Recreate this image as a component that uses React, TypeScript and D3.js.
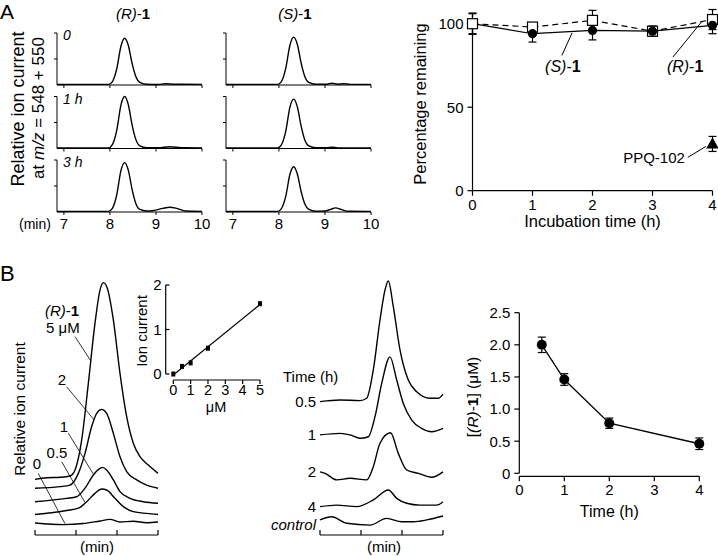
import React from "react";
import * as d3 from "d3";

const FONT = "'Liberation Sans', Arial, Helvetica, sans-serif";

type Pt = [number, number];

// ---------- A, left: chromatograms (min, height relative to axis top) ----------
const chromTicks = [7, 8, 9, 10];
const chromRowLabels = ["0", "1 h", "3 h"];
const chromR: Pt[][] = [
  [[6.85,0.01],[7.5,0.012],[7.97,0.012],[8.05,0.06],[8.15,0.32],[8.24,0.75],[8.32,0.9],[8.4,0.76],[8.48,0.42],[8.56,0.17],[8.65,0.05],[8.78,0.015],[9.05,0.01],[9.2,0.025],[9.4,0.015],[10,0.012]],
  [[6.85,0.01],[7.5,0.012],[7.97,0.012],[8.05,0.07],[8.15,0.36],[8.24,0.84],[8.32,1.0],[8.4,0.84],[8.48,0.46],[8.56,0.18],[8.65,0.05],[8.8,0.015],[9.05,0.015],[9.3,0.035],[9.55,0.015],[10,0.012]],
  [[6.85,0.01],[7.5,0.012],[7.97,0.012],[8.05,0.065],[8.15,0.34],[8.24,0.8],[8.32,0.95],[8.4,0.8],[8.48,0.44],[8.56,0.17],[8.65,0.05],[8.8,0.02],[8.95,0.03],[9.15,0.07],[9.3,0.09],[9.45,0.07],[9.65,0.02],[9.8,0.015],[10,0.012]],
];
const chromS: Pt[][] = [
  [[6.85,0.01],[7.5,0.012],[7.97,0.012],[8.05,0.06],[8.15,0.33],[8.24,0.77],[8.32,0.92],[8.4,0.78],[8.48,0.43],[8.56,0.17],[8.65,0.05],[8.8,0.015],[9.05,0.015],[9.15,0.035],[9.27,0.015],[9.4,0.025],[9.55,0.012],[10,0.012]],
  [[6.85,0.01],[7.5,0.012],[7.97,0.012],[8.05,0.065],[8.15,0.34],[8.24,0.8],[8.32,0.95],[8.4,0.8],[8.48,0.44],[8.56,0.17],[8.65,0.05],[8.8,0.015],[9.05,0.015],[9.15,0.025],[9.28,0.012],[10,0.012]],
  [[6.85,0.01],[7.5,0.012],[7.97,0.012],[8.05,0.06],[8.15,0.31],[8.24,0.73],[8.32,0.87],[8.4,0.73],[8.48,0.4],[8.56,0.16],[8.65,0.05],[8.8,0.015],[9.0,0.02],[9.12,0.05],[9.23,0.08],[9.35,0.05],[9.48,0.015],[10,0.012]],
];

// ---------- A, right: percentage remaining ----------
const incTimes = [0, 1, 2, 3, 4];
const pctR = [100, 98, 102, 95.5, 102.5];
const pctRErr = [6, 2, 6, 3, 6];
const pctS = [100, 94, 96, 95.5, 99];
const pctSErr = [6.4, 5, 5.7, 3, 5];
const ppqTime = 4;
const ppqPct = 28;
const ppqErr = 4.5;
const pctTicks = [0, 50, 100];

// ---------- B, left: calibration chromatograms ----------
const calLabels = ["5 μM", "2", "1", "0.5", "0"];
const calTraces: Pt[][] = [
  [[0,21.4],[0.285,22.0],[0.61,22.2],[0.854,22.7],[0.976,25],[1.138,36.5],[1.301,58.3],[1.463,81.4],[1.585,94.2],[1.667,97.05],[1.764,94.9],[1.911,82.7],[2.073,62.2],[2.236,45.5],[2.398,35.3],[2.561,30.1],[2.764,26.9],[3,23.7]],
  [[0,18.0],[0.61,18.6],[0.854,19.2],[1.057,23.7],[1.22,31.4],[1.382,41.7],[1.504,46.8],[1.626,48.3],[1.748,46.8],[1.911,39.1],[2.073,30.1],[2.236,24.4],[2.48,21.2],[2.724,19.2],[3,18.0]],
  [[0,12.8],[0.772,14.1],[1.016,14.7],[1.22,18.0],[1.423,23.1],[1.585,25.6],[1.642,26.0],[1.748,25.0],[1.911,21.2],[2.073,16.7],[2.317,14.1],[2.642,12.8],[3,12.2]],
  [[0,7.9],[0.772,9.4],[1.057,10.3],[1.26,12.8],[1.463,16.0],[1.626,17.7],[1.748,17.3],[1.951,14.1],[2.154,10.9],[2.398,9.0],[2.724,8.3],[3,7.9]],
  [[0,4.6],[0.691,4.0],[1.179,4.4],[1.585,5.4],[1.829,6.0],[2.073,5.0],[2.398,5.3],[2.724,4.7],[3,5.0]],
];
const minTicks = [0, 1, 2, 3];

// ---------- B, inset: calibration ----------
const calX = [0, 0.5, 1, 2, 5];
const calY = [0, 0.17, 0.25, 0.58, 1.58];
const calXTicks = [0, 1, 2, 3, 4, 5];
const calYTicks = [0, 1, 2];

// ---------- B, middle: time course chromatograms ----------
const tcLabels = ["0.5", "1", "2", "4", "control"];
const tcTraces: Pt[][] = [
  [[0,51.3],[0.488,51.9],[0.976,51.7],[1.139,52.6],[1.3,63.5],[1.463,82.7],[1.585,94.2],[1.666,97.7],[1.788,87.8],[1.951,71.2],[2.153,59.6],[2.358,55.1],[2.683,52.6],[2.885,52.6],[3,54.2]],
  [[0,38.5],[0.488,39.1],[0.732,38.5],[0.976,37.2],[1.178,37.8],[1.341,45.5],[1.505,58.3],[1.707,68.5],[1.871,59.6],[2.032,50.6],[2.237,44.2],[2.48,41.0],[2.724,39.7],[3,41.0]],
  [[0,24.3],[0.122,23.7],[0.407,21.2],[0.732,21.8],[1.139,21.2],[1.3,26.3],[1.463,35.3],[1.72,39.3],[1.91,31.4],[2.115,25.0],[2.398,23.7],[2.724,22.2],[3,24.3]],
  [[0,10.9],[0.407,11.5],[0.895,10.9],[1.3,13.5],[1.666,17.3],[1.871,14.1],[2.115,12.2],[2.439,11.5],[2.846,11.5],[3,12.8]],
  [[0,5.8],[0.285,7.0],[0.651,4.5],[1.22,3.8],[1.627,6.4],[1.993,5.1],[2.276,5.1],[2.602,5.8],[3,7.3]],
];

// ---------- B, right: [(R)-1] vs time ----------
const decayT = [0.5, 1, 2, 4];
const decayC = [2.0, 1.46, 0.78, 0.46];
const decayErr = [0.12, 0.09, 0.08, 0.09];
const decayXTicks = [0, 1, 2, 3, 4];
const decayYTicks = [0, 0.5, 1, 1.5, 2, 2.5];

const K = "#000";

function ErrBar({ x, y0, y1, w = 8 }: { x: number; y0: number; y1: number; w?: number }) {
  return (
    <g stroke={K} strokeWidth={1.2}>
      <line x1={x} x2={x} y1={y0} y2={y1} />
      <line x1={x - w / 2} x2={x + w / 2} y1={y0} y2={y0} />
      <line x1={x - w / 2} x2={x + w / 2} y1={y1} y2={y1} />
    </g>
  );
}

export default function App() {
  // A chromatograms
  const chromW = 145;
  const chromH = 52;
  const colX = [57, 226];
  const rowTop = [33, 96.5, 160];
  const cx = d3.scaleLinear().domain([6.85, 10]).range([0, chromW]);
  const cy = d3.scaleLinear().domain([0, 1]).range([chromH, 0]);
  const chromLine = d3.line<Pt>().x(d => cx(d[0])).y(d => cy(d[1])).curve(d3.curveMonotoneX);

  const chromPanels: React.ReactNode[] = [];
  [chromR, chromS].forEach((col, ci) =>
    col.forEach((trace, ri) => {
      chromPanels.push(
        <g key={`c${ci}${ri}`} transform={`translate(${colX[ci]},${rowTop[ri]})`}>
          <path d={chromLine(trace) || ""} fill="none" stroke={K} strokeWidth={1.4} />
          <line x1={0} x2={chromW} y1={chromH} y2={chromH} stroke={K} />
          {chromTicks.map(t => (
            <line key={t} x1={cx(t)} x2={cx(t)} y1={chromH} y2={chromH + 3} stroke={K} />
          ))}
          <line x1={0} x2={0} y1={0} y2={chromH} stroke={K} />
          {[0.5, 1].map(v => (
            <line key={v} x1={-3} x2={0} y1={cy(v)} y2={cy(v)} stroke={K} />
          ))}
          {ci === 0 && (
            <text x={6} y={7} fontStyle="italic" fontSize={14}>{chromRowLabels[ri]}</text>
          )}
          {ri === 2 &&
            chromTicks.map(t => (
              <text key={t} x={cx(t)} y={chromH + 17} textAnchor="middle" fontSize={15}>{t}</text>
            ))}
        </g>
      );
    })
  );

  // A right
  const px = d3.scaleLinear().domain([0, 4]).range([472.5, 712.5]);
  const py = d3.scaleLinear().domain([0, 100]).range([190.7, 23.7]);
  const pctLine = d3.line<number>().x((_, i) => px(incTimes[i])).y(d => py(d));

  // B left
  const bx = d3.scaleLinear().domain([0, 3]).range([35, 158]);
  const bx2 = d3.scaleLinear().domain([0, 3]).range([320, 443]);
  const by = d3.scaleLinear().domain([0, 100]).range([535, 275]);
  const calLine = d3.line<Pt>().x(d => bx(d[0])).y(d => by(d[1])).curve(d3.curveMonotoneX);
  const tcLine = d3.line<Pt>().x(d => bx2(d[0])).y(d => by(d[1])).curve(d3.curveMonotoneX);

  // inset
  const ix = d3.scaleLinear().domain([0, 5]).range([173.3, 260]);
  const iy = d3.scaleLinear().domain([0, 2]).range([374, 285]);
  const mx = d3.mean(calX) as number;
  const my = d3.mean(calY) as number;
  const slope =
    d3.sum(calX.map((x, i) => (x - mx) * (calY[i] - my))) / d3.sum(calX.map(x => (x - mx) ** 2));
  const icpt = my - slope * mx;

  // B right
  const dx = d3.scaleLinear().domain([0, 4]).range([519.3, 699.3]);
  const dy = d3.scaleLinear().domain([0, 2.5]).range([473.3, 312.7]);
  const decayLine = d3.line<number>().x((_, i) => dx(decayT[i])).y(d => dy(d));

  const calLabelPos: { t: number; v: number; anchor: string }[] = [
    { t: 0.268, v: 77.7, anchor: "start" },
    { t: 0.659, v: 57.7, anchor: "middle" },
    { t: 0.707, v: 39.6, anchor: "middle" },
    { t: 0.537, v: 29.6, anchor: "middle" },
    { t: 0.049, v: 25.4, anchor: "middle" },
  ];
  const calLeaders: [Pt, Pt][] = [
    [[0.976, 76.3], [1.359, 67.0]],
    [[0.773, 57.0], [1.439, 44.3]],
    [[0.812, 39.2], [1.42, 23.5]],
    [[0.651, 28.2], [1.22, 12.5]],
    [[0.08, 23.7], [0.73, 4.4]],
  ];
  const tcLabelShift = [0, 0, 0, 0, 5];

  return (
    <svg
      width={718}
      height={556}
      style={{ position: "absolute", left: 0, top: 0, background: "#fff" }}
      fontFamily={FONT}
      fill={K}
    >
      {/* panel letters */}
      <text x={0} y={19} fontSize={21}>A</text>
      <text x={0} y={281} fontSize={22}>B</text>

      {/* ===== A left ===== */}
      <text x={133} y={19} textAnchor="middle" fontSize={15}>
        <tspan fontStyle="italic">(R)</tspan>-<tspan fontWeight="bold">1</tspan>
      </text>
      <text x={295} y={19} textAnchor="middle" fontSize={15}>
        <tspan fontStyle="italic">(S)</tspan>-<tspan fontWeight="bold">1</tspan>
      </text>
      <text transform="translate(24,109) rotate(-90)" textAnchor="middle" fontSize={18}>
        Relative ion current
      </text>
      <text transform="translate(44,108) rotate(-90)" textAnchor="middle" fontSize={17}>
        at <tspan fontStyle="italic">m/z</tspan> = 548 + 550
      </text>
      <text x={19} y={229} fontSize={14}>(min)</text>
      {chromPanels}

      {/* ===== A right ===== */}
      <g stroke={K} strokeWidth={1.2}>
        <line x1={px(0)} x2={px(0)} y1={py(0)} y2={py(100)} />
        <line x1={px(0)} x2={px(4)} y1={py(0)} y2={py(0)} />
        {pctTicks.map(v => <line key={v} x1={px(0) - 5} x2={px(0)} y1={py(v)} y2={py(v)} />)}
        {incTimes.map(t => <line key={t} x1={px(t)} x2={px(t)} y1={py(0)} y2={py(0) + 5} />)}
      </g>
      {pctTicks.map(v => (
        <text key={v} x={px(0) - 9} y={py(v)} dy="0.36em" textAnchor="end" fontSize={15}>{v}</text>
      ))}
      {incTimes.map(t => (
        <text key={t} x={px(t)} y={210} textAnchor="middle" fontSize={15}>{t}</text>
      ))}
      <text x={px(2)} y={227} textAnchor="middle" fontSize={16.5}>Incubation time (h)</text>
      <text transform="translate(426,104) rotate(-90)" textAnchor="middle" fontSize={16.5}>
        Percentage remaining
      </text>
      {/* error bars */}
      {pctR.map((v, i) => (
        <ErrBar key={`re${i}`} x={px(incTimes[i])} y0={py(v + pctRErr[i])} y1={py(v - pctRErr[i])} />
      ))}
      {pctS.map((v, i) => (
        <ErrBar key={`se${i}`} x={px(incTimes[i])} y0={py(v + pctSErr[i])} y1={py(v - pctSErr[i])} />
      ))}
      <path d={pctLine(pctR) || ""} fill="none" stroke={K} strokeWidth={1.2} strokeDasharray="6,4" />
      <path d={pctLine(pctS) || ""} fill="none" stroke={K} strokeWidth={1.2} />
      {pctR.map((v, i) => (
        <rect key={`rs${i}`} x={px(incTimes[i]) - 5} y={py(v) - 5} width={10} height={10} fill="#fff" stroke={K} strokeWidth={1.2} />
      ))}
      {pctS.slice(1).map((v, i) => (
        <circle key={`sc${i}`} cx={px(incTimes[i + 1])} cy={py(v)} r={4.6} fill={K} />
      ))}
      <ErrBar x={px(ppqTime)} y0={py(ppqPct + ppqErr)} y1={py(ppqPct - ppqErr)} />
      <path
        d={d3.symbol(d3.symbolTriangle, 70)() || ""}
        transform={`translate(${px(ppqTime)},${py(ppqPct) + 1})`}
        fill={K}
      />
      {/* annotations */}
      <g stroke={K} strokeWidth={1}>
        <line x1={px(1.49)} y1={py(81)} x2={px(1.66)} y2={py(94.5)} />
        <line x1={px(3.34)} y1={py(80)} x2={px(3.82)} y2={py(101.2)} />
        <line x1={px(3.59)} y1={py(20)} x2={px(3.89)} y2={py(26.5)} />
      </g>
      <text x={px(1.21)} y={py(71)} fontSize={16}>
        <tspan fontStyle="italic">(S)</tspan>-<tspan fontWeight="bold">1</tspan>
      </text>
      <text x={px(3.24)} y={py(71)} fontSize={16}>
        <tspan fontStyle="italic">(R)</tspan>-<tspan fontWeight="bold">1</tspan>
      </text>
      <text x={px(3.54)} y={py(16.5)} textAnchor="end" fontSize={15}>PPQ-102</text>

      {/* ===== B left ===== */}
      <text transform="translate(25,409) rotate(-90)" textAnchor="middle" fontSize={15.5}>
        Relative ion current
      </text>
      {calTraces.map((tr, i) => (
        <path key={i} d={calLine(tr) || ""} fill="none" stroke={K} strokeWidth={1.4} />
      ))}
      <g stroke={K} strokeWidth={0.8}>
        {calLeaders.map((l, i) => (
          <line key={i} x1={bx(l[0][0])} y1={by(l[0][1])} x2={bx(l[1][0])} y2={by(l[1][1])} />
        ))}
      </g>
      <text x={bx(0.244)} y={by(84.2)} fontSize={15}>
        <tspan fontStyle="italic">(R)</tspan>-<tspan fontWeight="bold">1</tspan>
      </text>
      {calLabels.map((s, i) => (
        <text key={s} x={bx(calLabelPos[i].t)} y={by(calLabelPos[i].v)} textAnchor={calLabelPos[i].anchor} fontSize={15}>
          {s}
        </text>
      ))}
      <g stroke={K} strokeWidth={1.2}>
        <line x1={bx(0)} x2={bx(3)} y1={by(0)} y2={by(0)} />
        {minTicks.map(t => <line key={t} x1={bx(t)} x2={bx(t)} y1={by(0)} y2={by(0) - 5} />)}
      </g>
      <text x={97} y={552} textAnchor="middle" fontSize={15}>(min)</text>

      {/* ===== B inset ===== */}
      <g stroke={K} strokeWidth={1.2}>
        <line x1={165.7} x2={165.7} y1={iy(0)} y2={iy(2)} />
        {calYTicks.map(v => <line key={v} x1={165.7} x2={169.5} y1={iy(v)} y2={iy(v)} />)}
        <line x1={ix(0)} x2={ix(5)} y1={380} y2={380} />
        {calXTicks.map(t => <line key={t} x1={ix(t)} x2={ix(t)} y1={380} y2={384} />)}
        <line x1={ix(0)} x2={ix(5)} y1={iy(icpt)} y2={iy(icpt + slope * 5)} />
      </g>
      {calX.map((x, i) => (
        <rect key={i} x={ix(x) - 2} y={iy(calY[i]) - 2.5} width={4} height={5} fill={K} />
      ))}
      {calYTicks.map(v => (
        <text key={v} x={161.5} y={iy(v)} dy="0.36em" textAnchor="end" fontSize={15}>{v}</text>
      ))}
      {calXTicks.map(t => (
        <text key={t} x={ix(t)} y={395} textAnchor="middle" fontSize={14.5}>{t}</text>
      ))}
      <text x={216} y={412} textAnchor="middle" fontSize={14.5}>μM</text>
      <text transform="translate(147,331) rotate(-90)" textAnchor="middle" fontSize={15}>
        Ion current
      </text>

      {/* ===== B middle ===== */}
      <text x={283} y={382} fontSize={15}>Time (h)</text>
      {tcTraces.map((tr, i) => (
        <g key={i}>
          <path d={tcLine(tr) || ""} fill="none" stroke={K} strokeWidth={1.4} />
          <text
            x={bx2(0) - 4}
            y={by(tr[0][1]) + tcLabelShift[i]}
            dy="0.36em"
            textAnchor="end"
            fontSize={15}
            fontStyle={tcLabels[i] === "control" ? "italic" : "normal"}
          >
            {tcLabels[i]}
          </text>
        </g>
      ))}
      <g stroke={K} strokeWidth={1.2}>
        <line x1={bx2(0)} x2={bx2(3)} y1={by(0)} y2={by(0)} />
        {minTicks.map(t => <line key={t} x1={bx2(t)} x2={bx2(t)} y1={by(0)} y2={by(0) - 5} />)}
      </g>
      <text x={384} y={552} textAnchor="middle" fontSize={15}>(min)</text>

      {/* ===== B right ===== */}
      <g stroke={K} strokeWidth={1.2}>
        <line x1={dx(0)} x2={dx(0)} y1={dy(0)} y2={dy(2.5)} />
        {decayYTicks.map(v => <line key={v} x1={dx(0) - 5} x2={dx(0)} y1={dy(v)} y2={dy(v)} />)}
        <line x1={dx(0)} x2={dx(4)} y1={dy(0) + 3} y2={dy(0) + 3} />
        {decayXTicks.map(t => <line key={t} x1={dx(t)} x2={dx(t)} y1={dy(0) + 3} y2={dy(0) + 8} />)}
      </g>
      {decayYTicks.map(v => (
        <text key={v} x={dx(0) - 9} y={dy(v)} dy="0.36em" textAnchor="end" fontSize={15}>
          {v === 0 ? "0" : v.toFixed(1)}
        </text>
      ))}
      {decayXTicks.map(t => (
        <text key={t} x={dx(t)} y={495} textAnchor="middle" fontSize={15}>{t}</text>
      ))}
      <text x={dx(2)} y={517} textAnchor="middle" fontSize={16}>Time (h)</text>
      <text transform="translate(478,397) rotate(-90)" textAnchor="middle" fontSize={15.5}>
        [<tspan fontStyle="italic">(R)</tspan>-<tspan fontWeight="bold">1</tspan>] (μM)
      </text>
      <path d={decayLine(decayC) || ""} fill="none" stroke={K} strokeWidth={1.3} />
      {decayC.map((c, i) => (
        <g key={i}>
          <ErrBar x={dx(decayT[i])} y0={dy(c + decayErr[i])} y1={dy(c - decayErr[i])} />
          <circle cx={dx(decayT[i])} cy={dy(c)} r={5} fill={K} />
        </g>
      ))}
    </svg>
  );
}
